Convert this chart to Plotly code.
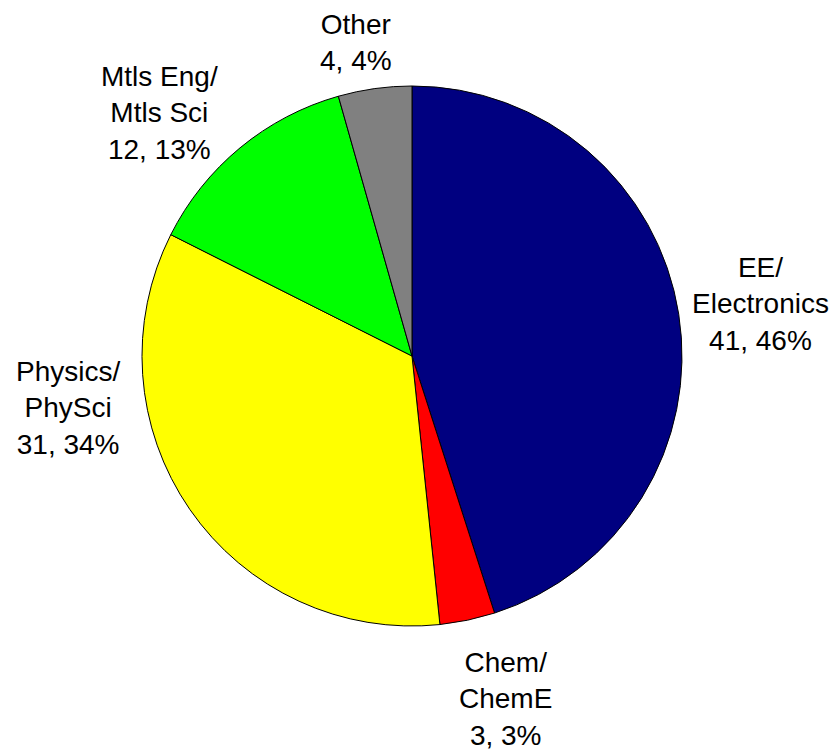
import plotly.graph_objects as go

categories = ["EE/<br>Electronics", "Chem/<br>ChemE", "Physics/<br>PhySci", "Mtls Eng/<br>Mtls Sci", "Other"]
counts = [41, 3, 31, 12, 4]
percent_labels = ["46%", "3%", "34%", "13%", "4%"]
colors = ["#000080", "#FF0000", "#FFFF00", "#00FF00", "#808080"]

# label block centers (pixels in 835x752 canvas)
label_pos = [(760, 304), (505, 699), (68, 408), (159, 113), (356, 43)]

W, H = 835, 752
cx, cy, r = 412, 356, 270

fig = go.Figure(go.Pie(
    labels=[c.replace("<br>", " ") for c in categories],
    values=counts,
    sort=False,
    direction="clockwise",
    rotation=0,
    marker=dict(colors=colors, line=dict(color="black", width=1)),
    textinfo="none",
    hoverinfo="label+value+percent",
    domain=dict(x=[(cx - r) / W, (cx + r) / W], y=[(H - cy - r) / H, (H - cy + r) / H]),
    showlegend=False,
))

for cat, n, p, (lx, ly) in zip(categories, counts, percent_labels, label_pos):
    fig.add_annotation(
        x=lx / W, y=1 - ly / H, xref="paper", yref="paper",
        text=f"{cat}<br>{n}, {p}", showarrow=False,
        xanchor="center", yanchor="middle", align="center",
        font=dict(family="Liberation Sans, Arial, sans-serif", size=28, color="black"),
    )

fig.update_layout(
    width=W, height=H,
    margin=dict(l=0, r=0, t=0, b=0),
    paper_bgcolor="white", plot_bgcolor="white",
)

fig.write_html(
    "out.html",
    config={"displayModeBar": False},
    post_script="document.body.style.margin='0';document.body.style.overflow='hidden';",
)
